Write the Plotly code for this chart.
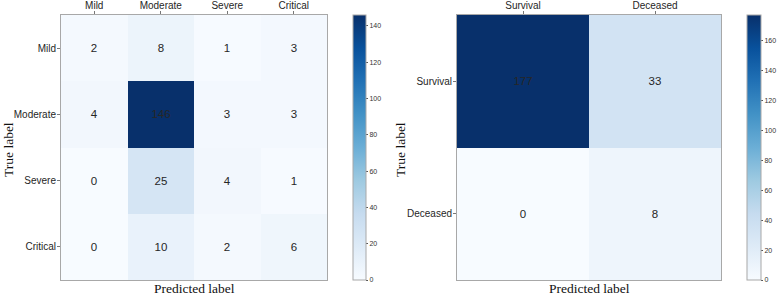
import plotly.graph_objects as go
import plotly.express as px

# ---- data ----
severity_labels = ["Mild", "Moderate", "Severe", "Critical"]
severity_matrix = [
    [2, 8, 1, 3],
    [4, 146, 3, 3],
    [0, 25, 4, 1],
    [0, 10, 2, 6],
]
outcome_labels = ["Survival", "Deceased"]
outcome_matrix = [
    [177, 33],
    [0, 8],
]
cb1_ticks = [0, 20, 40, 60, 80, 100, 120, 140]
cb2_ticks = [0, 20, 40, 60, 80, 100, 120, 140, 160]

W, H = 777, 295
blues = px.colors.sequential.Blues
cscale = [[i / (len(blues) - 1), c] for i, c in enumerate(blues)]

def fx(p):
    return p / W

def fy(p):
    return 1 - p / H

TICKFONT = dict(family="Liberation Sans, Arial, sans-serif", size=10, color="#262626")
TITLEFONT = dict(family="Liberation Serif, Times New Roman, serif", size=13.5, color="#111111")
CELLFONT = dict(family="Liberation Sans, Arial, sans-serif", size=11.5, color="#262626")
CBFONT = dict(family="Liberation Sans, Arial, sans-serif", size=7, color="#333333")
LINEC = "#a8a8a8"

fig = go.Figure()

panels = [
    dict(labels=severity_labels, z=severity_matrix, ticks=cb1_ticks,
         x0=61, x1=327, cbx=353, cbt=13, xa="x", ya="y", xb="x3", n=1),
    dict(labels=outcome_labels, z=outcome_matrix, ticks=cb2_ticks,
         x0=457, x1=721, cbx=747, cbt=14, xa="x2", ya="y2", xb="x4", n=2),
]

layout = dict(width=W, height=H, margin=dict(l=0, r=0, t=0, b=0, autoexpand=False),
              paper_bgcolor="white", plot_bgcolor="white", showlegend=False)
annotations = []

for p in panels:
    n = len(p["labels"])
    idx = list(range(n))
    zmax = max(max(r) for r in p["z"])
    text = [[str(v) for v in row] for row in p["z"]]
    fig.add_trace(go.Heatmap(
        z=p["z"], x=idx, y=idx, xaxis=p["xa"], yaxis=p["ya"],
        colorscale=cscale, zmin=0, zmax=zmax,
        text=text, texttemplate="%{text}", textfont=CELLFONT,
        hoverinfo="skip",
        colorbar=dict(
            x=fx(p["cbx"]), xanchor="left", xref="paper",
            y=0.5, yanchor="middle", len=(280 - 15) / H, lenmode="fraction",
            thickness=p["cbt"], thicknessmode="pixels",
            outlinecolor=LINEC, outlinewidth=1,
            tickvals=p["ticks"], ticks="outside", ticklen=2, tickcolor="#555",
            tickfont=CBFONT, xpad=0, ypad=0,
        ),
    ))
    suffix = "" if p["n"] == 1 else "2"
    bsuffix = "3" if p["n"] == 1 else "4"
    dom_x = [fx(p["x0"]), fx(p["x1"])]
    dom_y = [fy(280), fy(15)]
    rng = [-0.5, n - 0.5]
    layout["xaxis" + suffix] = dict(
        domain=dom_x, range=rng, side="top", anchor="y" + suffix,
        tickvals=idx, ticktext=p["labels"], ticks="outside", ticklen=3,
        tickcolor="#777", tickfont=TICKFONT, ticklabelstandoff=-2,
        showline=True, linecolor=LINEC, linewidth=1, mirror=True,
        showgrid=False, zeroline=False, fixedrange=True, automargin=False,
    )
    layout["yaxis" + suffix] = dict(
        domain=dom_y, range=[n - 0.5, -0.5], anchor="x" + suffix,
        tickvals=idx, ticktext=p["labels"], ticks="outside", ticklen=3,
        tickcolor="#777", tickfont=TICKFONT, ticklabelstandoff=-1,
        showline=True, linecolor=LINEC, linewidth=1, mirror=True,
        showgrid=False, zeroline=False, fixedrange=True, automargin=False,
    )
    layout["xaxis" + bsuffix] = dict(
        domain=dom_x, range=rng, side="bottom", anchor="y" + suffix,
        overlaying="x" + suffix, tickvals=idx, showticklabels=False,
        ticks="outside", ticklen=3, tickcolor="#777",
        showline=False, showgrid=False, zeroline=False, fixedrange=True,
        automargin=False,
    )
    annotations.append(dict(
        text="Predicted label", xref="paper", yref="paper",
        x=fx((p["x0"] + p["x1"]) / 2), y=fy(288), xanchor="center", yanchor="middle",
        showarrow=False, font=TITLEFONT,
    ))
    tl_x = 8 if p["n"] == 1 else 400
    annotations.append(dict(
        text="True label", xref="paper", yref="paper",
        x=fx(tl_x), y=fy(150), xanchor="center", yanchor="middle",
        showarrow=False, font=TITLEFONT, textangle=-90,
    ))

layout["annotations"] = annotations
fig.update_layout(**layout)
fig.write_html(
    "out.html",
    config={"displayModeBar": False},
    post_script="document.body.style.margin='0';document.body.style.overflow='hidden';",
)
